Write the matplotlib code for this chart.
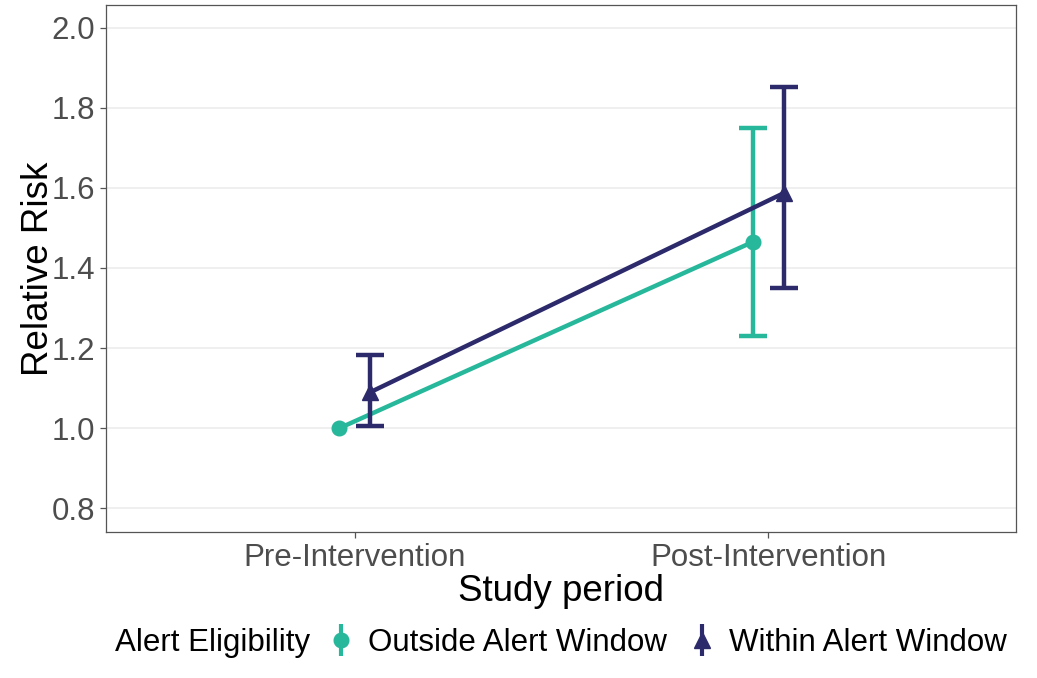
import matplotlib.pyplot as plt
import numpy as np
from matplotlib.offsetbox import HPacker

plt.rcParams['font.family'] = ['Liberation Sans', 'DejaVu Sans']

periods = ['Pre-Intervention', 'Post-Intervention']
groups = ['Outside Alert Window', 'Within Alert Window']

# reference group has no interval in the pre period
rr_outside = [1.0, 1.465]
lo_outside = [np.nan, 1.23]
hi_outside = [np.nan, 1.75]

rr_within = [1.09, 1.587]
lo_within = [1.005, 1.35]
hi_within = [1.183, 1.853]

teal = '#27B79B'
navy = '#2C2A6B'

fig, ax = plt.subplots(figsize=(10.37, 6.78), dpi=100)
fig.subplots_adjust(left=0.102, right=0.98, top=0.993, bottom=0.215)

x = np.arange(1, len(periods) + 1)
dodge = 0.0375

series = [
    (rr_outside, lo_outside, hi_outside, teal, 'o', -dodge, 10.5),
    (rr_within, lo_within, hi_within, navy, '^', dodge, 11.5),
]
handles = []
for (rr, lo, hi, col, mk, off, ms), name in zip(series, groups):
    xs = x + off
    rr = np.array(rr)
    err = np.array([rr - np.array(lo), np.array(hi) - rr])
    ok = ~np.isnan(err).any(axis=0)
    ax.plot(xs, rr, color=col, lw=3.2, zorder=3)
    ax.errorbar(xs[ok], rr[ok], yerr=err[:, ok], fmt='none', ecolor=col,
                elinewidth=3.2, capsize=10, capthick=3.2, zorder=3)
    ax.plot(xs, rr, mk, color=col, ms=ms, zorder=4, ls='none')
    h = ax.errorbar([], [], yerr=[], fmt=mk, color=col, ms=ms, capsize=0,
                    elinewidth=3)
    handles.append(h)

ax.set_xlim(0.397, 2.6)
ax.set_ylim(0.74, 2.0575)
ax.set_yticks([0.8, 1.0, 1.2, 1.4, 1.6, 1.8, 2.0])
ax.set_xticks(x)
ax.set_xticklabels(periods)
ax.yaxis.set_major_formatter(plt.FormatStrFormatter('%.1f'))

ax.grid(axis='y', color='#EBEBEB', lw=1.1, zorder=0)
ax.set_axisbelow(True)
for s in ax.spines.values():
    s.set_color('#555555')
    s.set_linewidth(0.9)
ax.tick_params(colors='#555555', labelcolor='#4D4D4D', labelsize=22.5,
               length=4, width=0.9)

ax.set_xlabel('Study period', fontsize=26.5, labelpad=1)
ax.set_ylabel('Relative Risk', fontsize=26.5, labelpad=-3)

leg = fig.legend(handles, groups, loc='lower center', ncol=2,
                 bbox_to_anchor=(0.541, -0.012), frameon=False, fontsize=22.5,
                 title='Alert Eligibility', title_fontsize=22.5,
                 handlelength=0.9, handletextpad=0.4, columnspacing=0.7)
# put the title inline with the entries
leg._legend_box._children = [HPacker(pad=0, sep=12, align='center',
                                     children=[leg._legend_title_box,
                                               leg._legend_handle_box])]

fig.savefig('out.png', dpi=100)
